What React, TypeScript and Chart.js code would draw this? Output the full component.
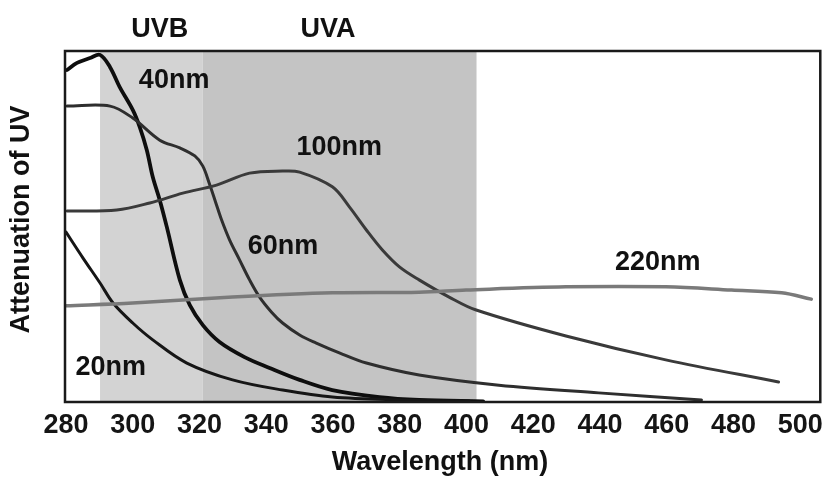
import React, { useEffect, useRef } from "react";
import { Chart, registerables } from "chart.js";

Chart.register(...registerables);

// ---- data ----
const xTicks = [280, 300, 320, 340, 360, 380, 400, 420, 440, 460, 480, 500];

const wl20 = [280, 285.1, 290.2, 294.1, 300, 306, 316.2, 329.9, 344.9, 359.8, 379.9, 400.8];
const att20 = [48.4, 41, 33.9, 28.2, 22.5, 17.7, 11.1, 6.3, 3.4, 1.4, 0.6, 0.3];

const wl40 = [280.3, 283.3, 287.2, 290.2, 293.2, 296.1, 300, 302.1, 304.2, 306, 308.1, 310.2, 314.1, 317.1, 321, 326, 333.5, 341, 350, 359.8, 373.9, 385.8, 405];
const att40 = [94.6, 96.6, 98, 98.9, 95.4, 89.7, 83.2, 78.3, 71.8, 64.1, 57.5, 49.9, 34.8, 27.6, 21.9, 17.1, 12.8, 9.7, 6.3, 3.4, 1.4, 0.6, 0.2];

const wl60 = [280.3, 293.2, 300, 308.1, 314.1, 318.6, 321, 323, 324.8, 326.6, 329, 332, 335, 338, 341.6, 344.9, 350, 355, 361.9, 370, 385.8, 409.7, 439.6, 470.4];
const att60 = [84.3, 84.3, 80.9, 74.6, 72.4, 70.1, 67.2, 62.1, 57, 51.9, 46.2, 40.5, 34.8, 29.9, 25.6, 22.5, 19.1, 16.8, 14, 11.1, 7.7, 4.8, 2.6, 0.6];

const wl100 = [280.3, 295.2, 305.1, 315, 325.1, 335, 344.9, 350, 359.8, 364.9, 370, 374.8, 379.9, 385.8, 394.8, 402.9, 429.8, 459.7, 493.5];
const att100 = [54.4, 54.7, 56.7, 59.5, 61.8, 65.2, 65.8, 65.5, 61.3, 55.6, 49, 43.3, 38.5, 34.8, 29.9, 26.2, 18.8, 12, 5.7];

const wl220 = [280, 300, 329.9, 359.8, 385.8, 399.9, 429.8, 459.7, 479.4, 494.4, 503.3];
const att220 = [27.4, 28.2, 29.9, 31.1, 31.3, 31.9, 32.8, 32.8, 31.9, 31.1, 29.3];

const seriesNames = ["20nm", "40nm", "60nm", "100nm", "220nm"];
const bandNames = ["UVB", "UVA"];
const bandStarts = [290.2, 321];
const bandEnds = [321, 403];

const zip = (xs: number[], ys: number[]) => xs.map((x, i) => ({ x, y: ys[i] }));

const FONT = '"Liberation Sans", Arial, Helvetica, sans-serif';

export default function App() {
  const ref = useRef<HTMLCanvasElement | null>(null);

  useEffect(() => {
    if (!ref.current) return;

    const decor = {
      id: "decor",
      beforeDatasetsDraw(chart: any) {
        const { ctx, chartArea, scales } = chart;
        const xs = scales.x;
        const bandColors = ["#d3d3d3", "#c4c4c4"];
        ctx.save();
        bandStarts.forEach((s, i) => {
          const x0 = xs.getPixelForValue(s);
          const x1 = xs.getPixelForValue(bandEnds[i]);
          ctx.fillStyle = bandColors[i];
          ctx.fillRect(x0, chartArea.top, x1 - x0, chartArea.bottom - chartArea.top);
        });
        ctx.restore();
      },
      afterDatasetsDraw(chart: any) {
        const { ctx, chartArea, scales } = chart;
        const xs = scales.x;
        const ys = scales.y;
        ctx.save();
        // frame
        ctx.strokeStyle = "#1a1a1a";
        ctx.lineWidth = 2.5;
        ctx.strokeRect(chartArea.left, chartArea.top, chartArea.right - chartArea.left, chartArea.bottom - chartArea.top);

        ctx.fillStyle = "#111";
        ctx.font = `bold 27px ${FONT}`;
        ctx.textAlign = "center";
        ctx.textBaseline = "alphabetic";

        // band labels above the plot
        const bandLabelX = [308.1, 358.5];
        bandNames.forEach((n, i) => {
          ctx.fillText(n, xs.getPixelForValue(bandLabelX[i]), 37);
        });

        // curve labels (in data coordinates)
        const labelPos = [
          [293.4, 7.8],
          [312.4, 89.5],
          [345, 42.3],
          [361.9, 70.5],
          [457.3, 37.6],
        ];
        seriesNames.forEach((n, i) => {
          ctx.fillText(n, xs.getPixelForValue(labelPos[i][0]), ys.getPixelForValue(labelPos[i][1]));
        });

        // x axis title
        ctx.fillText("Wavelength (nm)", 440, 470);

        // y axis title
        ctx.save();
        ctx.translate(22, 219.5);
        ctx.rotate(-Math.PI / 2);
        ctx.textBaseline = "middle";
        ctx.fillText("Attenuation of UV", 0, 0);
        ctx.restore();

        ctx.restore();
      },
    };

    const mk = (label: string, xs: number[], ys: number[], color: string, width: number) => ({
      label,
      data: zip(xs, ys),
      borderColor: color,
      backgroundColor: color,
      borderWidth: width,
      pointRadius: 0,
      fill: false,
      tension: 0.35,
      borderCapStyle: "round" as const,
      borderJoinStyle: "round" as const,
    });

    const chart = new Chart(ref.current, {
      type: "line",
      data: {
        datasets: [
          mk(seriesNames[4], wl220, att220, "#7a7a7a", 3.5),
          mk(seriesNames[3], wl100, att100, "#3a3a3a", 3),
          mk(seriesNames[2], wl60, att60, "#2e2e2e", 3),
          mk(seriesNames[0], wl20, att20, "#161616", 3),
          mk(seriesNames[1], wl40, att40, "#0e0e0e", 3.8),
        ],
      },
      options: {
        responsive: false,
        animation: false,
        devicePixelRatio: 1,
        layout: { padding: { left: 65, right: 8, top: 51, bottom: 0 } },
        plugins: { legend: { display: false }, tooltip: { enabled: false } },
        scales: {
          x: {
            type: "linear",
            min: 279.7,
            max: 506,
            grid: { display: false, drawTicks: false },
            border: { display: false },
            afterBuildTicks: (scale: any) => {
              scale.ticks = xTicks.map((v) => ({ value: v }));
            },
            afterFit: (scale: any) => {
              scale.height = 75;
            },
            ticks: {
              autoSkip: false,
              maxRotation: 0,
              padding: 7,
              color: "#151515",
              font: { family: FONT, size: 27, weight: "bold" },
              callback: (v: any) => String(v),
            },
          },
          y: {
            type: "linear",
            min: 0,
            max: 100,
            display: false,
          },
        },
      },
      plugins: [decor],
    });

    return () => chart.destroy();
  }, []);

  return (
    <div style={{ position: "fixed", left: 0, top: 0, width: 830, height: 477, background: "#fff" }}>
      <canvas ref={ref} width={830} height={477} />
    </div>
  );
}
